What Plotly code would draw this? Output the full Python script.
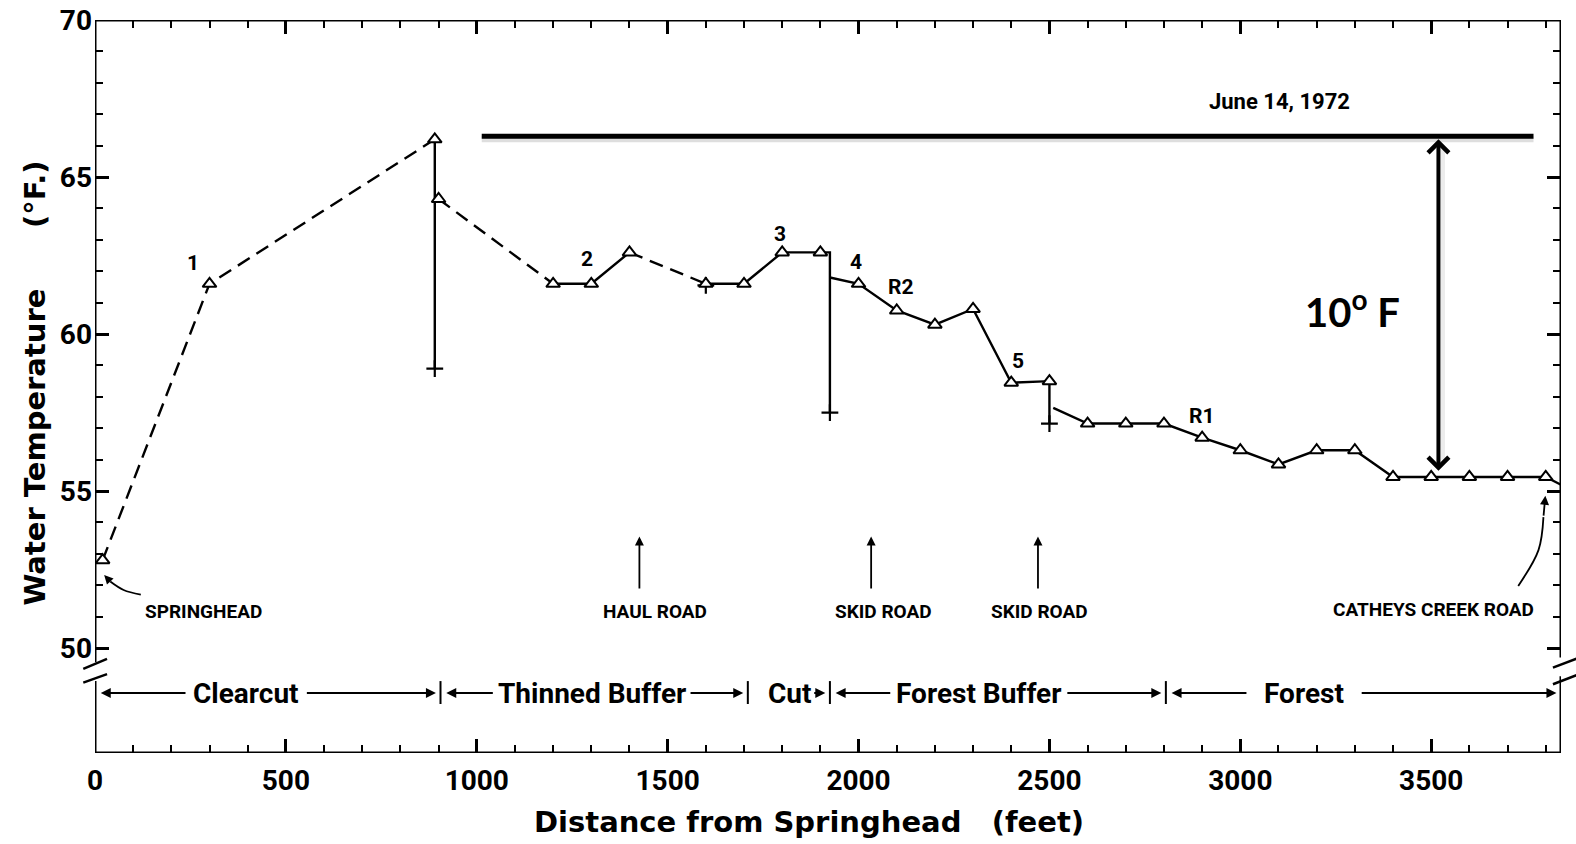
import plotly.graph_objects as go

# ---------------- data ----------------
dist_ft = [20, 300, 890, 900, 1200, 1300, 1400, 1600, 1700, 1800, 1900, 2000,
           2100, 2200, 2300, 2400, 2500, 2600, 2700, 2800, 2900, 3000, 3100,
           3200, 3300, 3400, 3500, 3600, 3700, 3800]
temp_f = [52.8, 61.6, 66.2, 64.3, 61.6, 61.6, 62.6, 61.6, 61.6, 62.6, 62.6, 61.6,
          60.75, 60.3, 60.8, 58.45, 58.5, 57.15, 57.15, 57.15, 56.7, 56.3, 55.85,
          56.3, 56.3, 55.45, 55.45, 55.45, 55.45, 55.45]

# '+' readings at the bottom of the steps
plus_dist = [890, 1600, 1925, 2500]
plus_temp = [58.9, 61.55, 57.5, 57.15]

# connector points (no marker)
step_dist = [1925, 1925, 2510, 3840]
step_temp = [62.6, 61.8, 57.65, 55.2]

station_labels = ["1", "2", "3", "4", "R2", "5", "R1"]
station_label_x = [256, 1290, 1795, 1994, 2112, 2418, 2899]
station_label_y = [62.25, 62.4, 63.2, 62.3, 61.5, 59.15, 57.4]

region_names = ["Clearcut", "Thinned Buffer", "Cut", "Forest Buffer", "Forest"]
region_center = [396, 1301, 1818, 2315, 3167]
region_halfwidth = [143, 243, 50, 216, 135]
region_start = [0, 905, 1710, 1925, 2805]
region_end = [905, 1710, 1925, 2805, 3840]
region_bounds = [905, 1710, 1925, 2805]

road_names = ["HAUL ROAD", "SKID ROAD", "SKID ROAD"]
road_arrow_x = [1426, 2033, 2470]
road_label_x = [1466, 2065, 2473]

xtick_vals = [0, 500, 1000, 1500, 2000, 2500, 3000, 3500]
ytick_vals = [50, 55, 60, 65, 70]

X_MAX = 3840
Y_MIN, Y_MAX = 46.66, 70.0

FONT = "Roboto, sans-serif"
TITLEFONT = "DejaVu Sans, sans-serif"
NUMFONT = "Roboto, sans-serif"
INK = "black"

fig = go.Figure()

def line(xs, ys, dash="solid", width=2.4):
    fig.add_trace(go.Scatter(x=xs, y=ys, mode="lines", hoverinfo="skip",
                             line=dict(color=INK, width=width, dash=dash),
                             showlegend=False, cliponaxis=False))

DASH = "14px,8px"
# dashed clearcut reach
line(dist_ft[0:3], temp_f[0:3], DASH)
# step at 890 ft
line([dist_ft[2], plus_dist[0]], [temp_f[2], plus_temp[0]])
line(dist_ft[3:5], temp_f[3:5], DASH)
line(dist_ft[4:7], temp_f[4:7])
line(dist_ft[6:8], temp_f[6:8], DASH)
line(dist_ft[7:11] + [step_dist[0], plus_dist[2]],
     temp_f[7:11] + [step_temp[0], plus_temp[2]])
line([step_dist[1]] + dist_ft[11:17] + [plus_dist[3]],
     [step_temp[1]] + temp_f[11:17] + [plus_temp[3]])
line([step_dist[2]] + dist_ft[17:] + [step_dist[3]],
     [step_temp[2]] + temp_f[17:] + [step_temp[3]])

# markers
fig.add_trace(go.Scatter(x=plus_dist, y=plus_temp, mode="markers", hoverinfo="skip",
                         marker=dict(symbol="cross-thin", size=12,
                                     line=dict(color=INK, width=2.2)),
                         showlegend=False, cliponaxis=False))
fig.add_trace(go.Scatter(x=dist_ft, y=temp_f, mode="markers", hoverinfo="skip",
                         marker=dict(symbol="triangle-up", size=12, color="white",
                                     line=dict(color=INK, width=2)),
                         showlegend=False, cliponaxis=False))

# ---------------- frame with axis breaks ----------------
shapes = []
LW = 3
BREAK_LO, BREAK_HI = 48.95, 49.55
R_BREAK_LO, R_BREAK_HI = 49.1, 49.7
shapes.append(dict(type="line", xref="x", yref="y", x0=0, x1=X_MAX, y0=Y_MIN, y1=Y_MIN,
                   line=dict(color=INK, width=LW)))
shapes.append(dict(type="line", xref="x", yref="y", x0=0, x1=X_MAX, y0=Y_MAX, y1=Y_MAX,
                   line=dict(color=INK, width=LW)))
for x, lo, hi in [(0, BREAK_LO, BREAK_HI), (X_MAX, R_BREAK_LO, R_BREAK_HI)]:
    shapes.append(dict(type="line", xref="x", yref="y", x0=x, x1=x, y0=Y_MIN, y1=lo,
                       line=dict(color=INK, width=LW)))
    shapes.append(dict(type="line", xref="x", yref="y", x0=x, x1=x, y0=hi, y1=Y_MAX,
                       line=dict(color=INK, width=LW)))
# break strokes (paper x, data y)
for (px0, y0, px1, y1) in [(-0.008, 49.34, 0.0082, 49.66), (-0.008, 48.9, 0.0082, 49.17),
                           (0.9945, 49.38, 1.0125, 49.7), (0.9945, 48.85, 1.0125, 49.17)]:
    shapes.append(dict(type="line", xref="paper", yref="y", x0=px0, x1=px1, y0=y0, y1=y1,
                       line=dict(color=INK, width=2.5)))
# region boundaries
for b in region_bounds:
    shapes.append(dict(type="line", xref="x", yref="y", x0=b, x1=b, y0=48.22, y1=48.95,
                       line=dict(color=INK, width=2)))
# 10 F reference line with faint shadow
shapes.append(dict(type="line", xref="x", yref="y", x0=1013, x1=3768, y0=66.2, y1=66.2,
                   line=dict(color="#dedede", width=6)))
shapes.append(dict(type="line", xref="x", yref="y", x0=1013, x1=3768, y0=66.3, y1=66.3,
                   line=dict(color=INK, width=5)))
shapes.append(dict(type="line", xref="x", yref="y", x0=3531, x1=3531, y0=56.0, y1=65.9,
                   line=dict(color="#ececec", width=4)))

annotations = []
def text(x, y, s, size, font=FONT, xref="x", yref="y", angle=0, color=INK):
    annotations.append(dict(x=x, y=y, xref=xref, yref=yref, text=s, showarrow=False,
                            textangle=angle, xanchor="center", yanchor="middle",
                            font=dict(family=font, size=size, color=color, weight="bold")))

def arrow(x0, y0, x1, y1, width=2, head=2, size=1.0, side="end"):
    annotations.append(dict(x=x1, y=y1, ax=x0, ay=y0, xref="x", yref="y",
                            axref="x", ayref="y", text="", showarrow=True,
                            arrowhead=head, startarrowhead=head, arrowsize=size,
                            startarrowsize=size, arrowwidth=width,
                            arrowcolor=INK, arrowside=side))

# station labels
for s, x, y in zip(station_labels, station_label_x, station_label_y):
    text(x, y, s, 21)

# region labels + arrows
REG_Y = 48.57
for i, name in enumerate(region_names):
    text(region_center[i], REG_Y, name, 28)
    left_tail = region_center[i] - region_halfwidth[i] - 12
    right_tail = region_center[i] + region_halfwidth[i] + 12
    if name != "Cut":
        arrow(left_tail, REG_Y, region_start[i] + 15, REG_Y)
    arrow(right_tail, REG_Y, region_end[i] - 12, REG_Y)

# road labels and arrows
for name, ax_, lx in zip(road_names, road_arrow_x, road_label_x):
    arrow(ax_, 51.85, ax_, 53.55, width=1.8)
    text(lx, 51.18, name, 19)

# springhead
text(285, 51.15, "SPRINGHEAD", 19)
fig.add_trace(go.Scatter(x=[120, 75, 40], y=[51.7, 51.85, 52.12], mode="lines",
                         line=dict(color=INK, width=1.8, shape="spline"),
                         hoverinfo="skip", showlegend=False))
arrow(40, 52.12, 24, 52.33, width=1.8)

# catheys creek road
text(3506, 51.24, "CATHEYS CREEK ROAD", 19)
fig.add_trace(go.Scatter(x=[3728, 3781, 3794], y=[51.98, 53.12, 54.17], mode="lines",
                         line=dict(color=INK, width=1.8, shape="spline"),
                         hoverinfo="skip", showlegend=False))
arrow(3794, 54.17, 3799, 54.85, width=1.8)

# date, 10 F
text(3103, 67.4, "June 14, 1972", 22)
text(3294, 60.8, "10<sup>o</sup> F", 40, font="Lato, Open Sans, sans-serif")
arrow(3519, 55.6, 3519, 66.2, width=4, head=4, size=1.0, side="end+start")

# axis titles
text(-0.041, 58.45, "Water Temperature&nbsp;&nbsp;&nbsp;&nbsp;&nbsp;&nbsp;(°F.)", 29,
     font=TITLEFONT, xref="paper", angle=-90)
text(1870, -0.094, "Distance from Springhead&nbsp;&nbsp;&nbsp;(feet)", 29,
     font=TITLEFONT, yref="paper")

minor_x = [v for v in range(100, 3840, 100) if v % 500]
minor_y = [v for v in range(51, 70) if v % 5]

fig.update_layout(
    width=1576, height=844,
    margin=dict(l=95, r=15, t=20, b=91, autoexpand=False),
    paper_bgcolor="white", plot_bgcolor="white",
    shapes=shapes, annotations=annotations,
    xaxis=dict(range=[0, X_MAX], showgrid=False, zeroline=False, showline=False,
               automargin=False,
               tickmode="array", tickvals=xtick_vals,
               ticks="inside", ticklen=14, tickwidth=2.5, tickcolor=INK,
               mirror="ticks", ticklabelstandoff=8,
               minor=dict(tickmode="array", tickvals=minor_x, ticks="inside",
                          ticklen=8, tickwidth=2.2, tickcolor=INK, showgrid=False),
               tickfont=dict(family=NUMFONT, size=28, color=INK, weight="bold")),
    yaxis=dict(range=[Y_MIN, Y_MAX], showgrid=False, zeroline=False, showline=False,
               automargin=False,
               tickmode="array", tickvals=ytick_vals,
               ticks="inside", ticklen=14, tickwidth=2.5, tickcolor=INK,
               mirror="ticks", ticklabelstandoff=2,
               minor=dict(tickmode="array", tickvals=minor_y, ticks="inside",
                          ticklen=8, tickwidth=2.2, tickcolor=INK, showgrid=False),
               tickfont=dict(family=NUMFONT, size=28, color=INK, weight="bold")),
)

fig.write_html("out.html")
